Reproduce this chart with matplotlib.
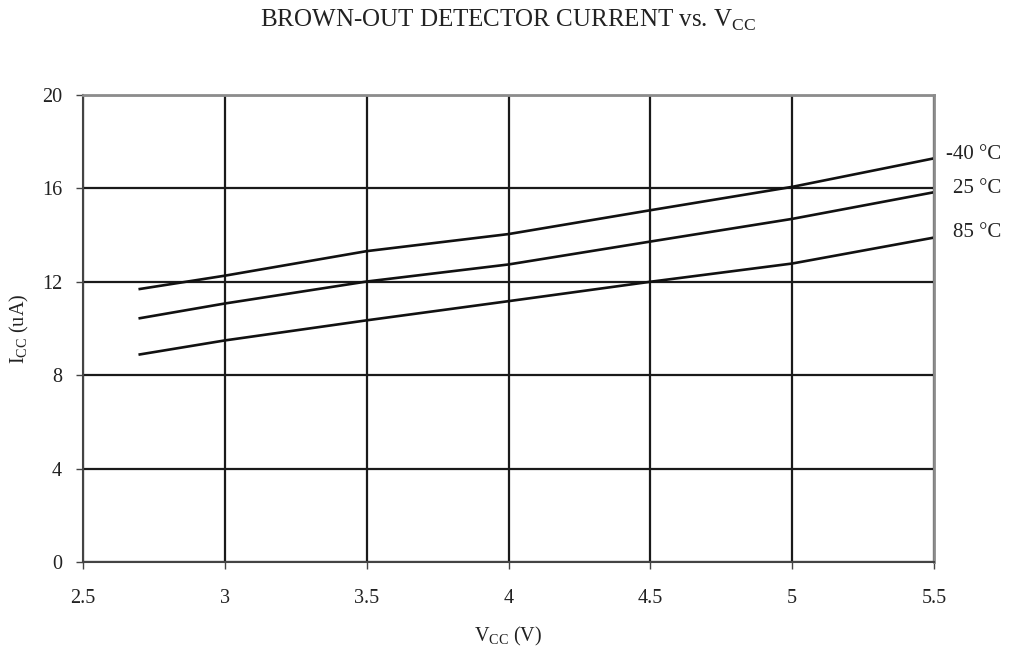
import matplotlib
matplotlib.use("Agg")
import matplotlib.pyplot as plt

plt.rcParams['font.family'] = ['Liberation Serif', 'DejaVu Serif']
plt.rcParams['mathtext.fontset'] = 'custom'
plt.rcParams['mathtext.rm'] = 'Liberation Serif'

vcc = [2.7, 3.0, 3.5, 4.0, 4.5, 5.0, 5.5]
icc_m40 = [11.70, 12.27, 13.32, 14.05, 15.07, 16.07, 17.29]
icc_25 = [10.45, 11.08, 12.02, 12.75, 13.73, 14.70, 15.84]
icc_85 = [8.90, 9.50, 10.36, 11.18, 12.01, 12.79, 13.90]
series_labels = ['-40 °C', '25 °C', '85 °C']
label_y = [17.45, 16.0, 14.1]

x_ticks = [2.5, 3, 3.5, 4, 4.5, 5, 5.5]
x_ticklabels = ['2.5', '3', '3.5', '4', '4.5', '5', '5.5']
y_ticks = [0, 4, 8, 12, 16, 20]

fig = plt.figure(figsize=(10.09, 6.52), dpi=100)
ax = fig.add_axes([0.0823, 0.1373, 0.8434, 0.7170])

for s in [icc_m40, icc_25, icc_85]:
    ax.plot(vcc, s, color='#111111', lw=1.9, solid_joinstyle='round')

ax.set_xlim(2.5, 5.5)
ax.set_ylim(0, 20)
ax.set_xticks(x_ticks)
ax.set_xticklabels(x_ticklabels)
ax.set_yticks(y_ticks)
ax.grid(True, color='#1a1a1a', lw=1.6)
ax.set_axisbelow(True)

for side in ['top', 'right']:
    ax.spines[side].set_color('#8c8c8c')
    ax.spines[side].set_linewidth(2.0)
for side in ['left', 'bottom']:
    ax.spines[side].set_color('#444444')
    ax.spines[side].set_linewidth(1.5)

ax.tick_params(axis='both', direction='out', length=5, width=1.0, color='#444444',
               labelsize=14.5, labelcolor='#222222')
ax.tick_params(axis='x', pad=14)
ax.tick_params(axis='y', pad=10)

for lab, y in zip(series_labels, label_y):
    ax.text(5.736, y, lab, ha='right', va='center', fontsize=15, color='#222222', clip_on=False)

ax.set_xlabel(r'V$_{\mathrm{CC}}$ (V)', fontsize=14.5, color='#222222', labelpad=12)
ax.set_ylabel(r'I$_{\mathrm{CC}}$ (uA)', fontsize=14.5, color='#222222', labelpad=8)
fig.text(0.5037, 0.968, r'BROWN-OUT DETECTOR CURRENT vs. V$_{\mathrm{CC}}$', ha='center', va='center',
         fontsize=18, color='#222222')

fig.savefig('out.png', dpi=100)
